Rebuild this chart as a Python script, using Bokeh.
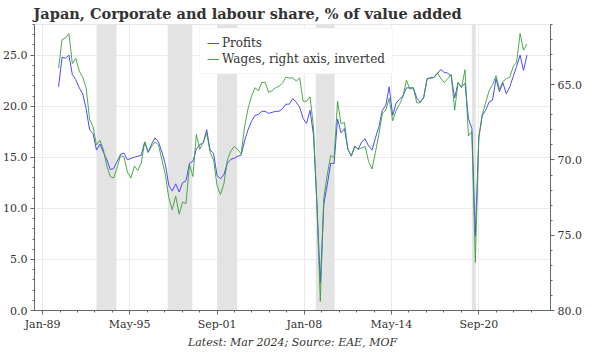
import pandas as pd
from bokeh.plotting import figure
from bokeh.models import (Range1d, LinearAxis, FixedTicker, SingleIntervalTicker,
                          NumeralTickFormatter, DatetimeTickFormatter, Legend,
                          Title, BoxAnnotation)
from bokeh.embed import file_html
from bokeh.resources import INLINE

# ---------------- data ----------------
first_quarter = "1990-03-01"
last_quarter = "2024-03-01"

profits = [21.9, 24.8, 24.7, 25.0, 23.1, 22.6, 21.8, 21.2, 19.75, 17.7,
           17.3, 15.7, 16.3, 15.5, 14.75, 13.8, 13.9, 14.6, 15.3, 15.4,
           14.75, 14.9, 15.0, 15.1, 15.2, 16.5, 15.5, 16.3, 16.9, 16.5,
           15.5, 14.3, 12.25, 11.7, 12.4, 11.6, 12.5, 12.7, 14.4, 14.6,
           15.8, 16.25, 16.4, 17.7, 15.7, 15.4, 13.2, 12.9, 13.3, 14.4,
           14.8, 14.9, 15.1, 15.2, 16.6, 17.7, 18.5, 19.1, 19.2, 19.5,
           19.5, 19.3, 19.4, 19.5, 19.5, 19.75, 20.2, 20.2, 20.75, 20.4,
           19.9, 18.8, 18.3, 19.6, 17.2, 10.5, 2.7, 10.4, 12.3, 14.4,
           14.4, 18.75, 17.4, 17.8, 15.8, 15.1, 16.1, 15.8, 16.5, 16.8,
           16.1, 15.7, 16.9, 18.0, 19.6, 20.1, 21.9, 19.1, 20.3, 20.7,
           21.0, 21.8, 21.8, 21.8, 20.8, 20.4, 20.8, 22.7, 22.8, 22.8,
           23.2, 23.6, 23.3, 23.25, 22.9, 20.8, 22.3, 21.9, 22.25, 18.8,
           17.8, 7.3, 16.9, 19.1, 19.6, 20.4, 20.6, 22.7, 21.4, 22.3,
           21.2, 21.9, 22.9, 23.9, 25.0, 23.5, 25.0]

wages = [63.9, 62.0, 61.9, 61.6, 63.6, 63.25, 64.1, 64.5, 65.2, 67.3,
         67.8, 69.0, 68.7, 69.3, 70.4, 71.1, 71.2, 70.5, 69.7, 69.8,
         70.8, 71.2, 70.4, 70.7, 70.2, 68.8, 69.5, 69.1, 68.8, 69.0,
         70.0, 71.0, 72.5, 73.3, 72.4, 73.6, 72.8, 72.9, 70.3, 71.1,
         68.3, 69.3, 68.8, 68.2, 69.5, 70.0, 71.7, 72.3, 71.6, 70.0,
         69.4, 69.1, 69.3, 69.6, 67.8, 66.6, 65.8, 65.2, 65.4, 64.85,
         64.85, 65.5, 65.4, 65.2, 65.1, 64.9, 64.5, 64.55, 64.55, 64.75,
         64.55, 66.1, 66.1, 65.8, 67.8, 73.0, 79.4, 72.5, 71.0, 69.7,
         69.85, 66.1, 67.6, 67.5, 69.3, 69.7, 69.1, 69.3, 69.2, 69.1,
         70.1, 70.6, 69.5, 68.3, 66.9, 66.7, 65.9, 67.4, 66.7, 66.3,
         65.8, 64.7, 65.3, 65.2, 66.2, 66.2, 65.8, 64.6, 64.6, 64.5,
         64.2, 64.6, 64.85, 64.6, 64.3, 66.7, 64.85, 65.2, 64.0, 68.4,
         68.1, 76.8, 68.5, 67.0, 66.2, 65.4, 65.0, 64.4, 65.3, 64.8,
         64.6, 64.5, 63.8, 63.5, 61.6, 62.7, 62.3]

tick_dates = ["1989-01-01", "1995-05-01", "2001-09-01",
              "2008-01-01", "2014-05-01", "2020-09-01"]
tick_labels = ["Jan-89", "May-95", "Sep-01", "Jan-08", "May-14", "Sep-20"]

band_starts = ["1992-12-01", "1998-02-01", "2001-09-01", "2008-11-01", "2020-03-01"]
band_ends = ["1994-05-15", "1999-11-15", "2003-02-15", "2010-03-15", "2020-06-15"]

title_text = "Japan, Corporate and labour share, % of value added"
footer_text = "Latest: Mar 2024; Source: EAE, MOF"
profits_label = "Profits"
wages_label = "Wages, right axis, inverted"

# ---------------- helpers ----------------
def ms(d):
    return pd.Timestamp(d).value / 1e6

dates = pd.date_range(first_quarter, last_quarter, freq="3MS")

FONT = "DejaVu Serif"
TXT = "#333333"
AX = "#666666"

p = figure(width=584, height=348, x_axis_type="datetime",
           output_backend="svg", toolbar_location=None,
           x_range=Range1d(ms("1988-06-01"), ms("2025-11-15")),
           y_range=Range1d(0, 28),
           min_border_left=0, min_border_right=0,
           min_border_top=0, min_border_bottom=0)
p.extra_y_ranges = {"w": Range1d(start=80, end=61)}

p.title.text = title_text
p.title.text_font = FONT
p.title.text_font_size = "14.5px"
p.title.text_font_style = "bold"
p.title.text_color = TXT
p.title.standoff = 5
p.title.offset = -1

p.outline_line_color = "#e6e6e6"
p.background_fill_color = "white"
p.border_fill_color = "white"

# bands
for s, e in zip(band_starts, band_ends):
    p.add_layout(BoxAnnotation(left=ms(s), right=ms(e), fill_color="#e3e3e3",
                               fill_alpha=1.0, line_alpha=0, level="underlay"))

r1 = p.line(dates, profits, line_color="#4a4aff", line_width=1.0)
r2 = p.line(dates, wages, line_color="#3aa03a", line_width=1.0, line_alpha=0.9,
            y_range_name="w")

# x axis ticks
tick_ms = [ms(d) for d in tick_dates]
minor = []
for a, b in zip(tick_ms[:-1], tick_ms[1:]):
    for i in range(1, 5):
        minor.append(a + (b - a) * i / 5)
step = (tick_ms[1] - tick_ms[0]) / 5
minor.append(tick_ms[-1] + step)
minor.append(tick_ms[-1] + 2 * step)
minor.append(tick_ms[-1] + 3 * step)
xax = p.xaxis[0]
xax.ticker = FixedTicker(ticks=tick_ms, minor_ticks=minor)
fmt = "%b-%y"
xax.formatter = DatetimeTickFormatter(years=fmt, months=fmt, days=fmt, hours=fmt,
                                      minutes=fmt, seconds=fmt, milliseconds=fmt,
                                      microseconds=fmt, minsec=fmt, hourmin=fmt)

yax = p.yaxis[0]
yax.ticker = SingleIntervalTicker(interval=5, num_minor_ticks=5)
yax.formatter = NumeralTickFormatter(format="0.0")

rax = LinearAxis(y_range_name="w",
                 ticker=SingleIntervalTicker(interval=5, num_minor_ticks=5),
                 formatter=NumeralTickFormatter(format="0.0"))
p.add_layout(rax, "right")

for ax in [xax, yax, rax]:
    ax.axis_line_color = AX
    ax.major_tick_line_color = AX
    ax.minor_tick_line_color = AX
    ax.major_tick_in = 0
    ax.major_tick_out = 4
    ax.minor_tick_in = 0
    ax.minor_tick_out = 2
    ax.major_label_text_font = FONT
    ax.major_label_text_font_size = "11px"
    ax.major_label_text_color = TXT
    ax.major_label_standoff = 3
    ax.axis_label_standoff = 0

p.xgrid.grid_line_color = "#ebebeb"
p.ygrid.grid_line_color = "#ebebeb"

legend = Legend(items=[(profits_label, [r1]), (wages_label, [r2])],
                location=(165, 236))
legend.label_text_font = FONT
legend.label_text_font_size = "12px"
legend.label_text_color = TXT
legend.glyph_width = 12
legend.glyph_height = 14
legend.label_standoff = 3
legend.spacing = 2
legend.padding = 7
legend.margin = 0
legend.border_line_color = "#eeeeee"
legend.background_fill_color = "white"
legend.background_fill_alpha = 1
p.add_layout(legend)

foot = Title(text=footer_text, align="center", text_font=FONT,
             text_font_size="11px", text_font_style="italic",
             text_color=TXT, standoff=0)
p.add_layout(foot, "below")

open("out.html", "w").write(file_html(p, INLINE))
